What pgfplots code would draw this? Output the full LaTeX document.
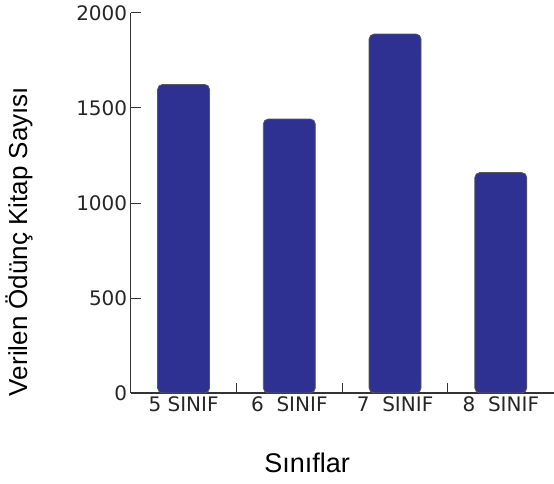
\documentclass[border=0pt]{standalone}
\usepackage{fontspec}
\setmainfont{Liberation Sans}
\newfontfamily\dejavu{DejaVu Sans}
\usepackage{pgfplots}
\pgfplotsset{compat=1.18}
\definecolor{barblue}{HTML}{2E3192}
\definecolor{axisgray}{HTML}{333333}
\begin{document}
\begin{tikzpicture}
% frame of the whole picture, in bp from the axis origin
\useasboundingbox (-130.7bp,-91bp) rectangle (423.3bp,393bp);
\begin{axis}[
  at={(0,0)}, anchor=south west,
  scale only axis,
  width=423bp, height=380bp,
  xmin=-0.5, xmax=3.5, ymin=0, ymax=2000,
  axis x line*=bottom, axis y line*=left,
  axis line style={axisgray, line width=1.1pt},
  tick align=inside,
  major tick length=10bp,
  tick style={axisgray, line width=1pt},
  ytick={0,500,...,2000},
  xtick={0.5,1.5,2.5},
  xticklabels={},
  extra x ticks={0,1,2,3},
  extra x tick labels={5 SINIF, 6\ \ SINIF, 7\ \ SINIF, 8\ \ SINIF},
  extra x tick style={major tick length=0pt},
  tick label style={font=\dejavu\fontsize{20bp}{24bp}\selectfont, text=black!85},
  /pgf/number format/assume math mode=true,
  /pgf/number format/1000 sep={},
  ylabel={Verilen Ödünç Kitap Sayısı},
  xlabel={Sınıflar},
  ylabel style={at={(axis description cs:-0.264,0.399)}, anchor=center,
    font=\fontsize{26bp}{30bp}\selectfont},
  xlabel style={at={(axis description cs:0.417,-0.2105)}, anchor=base,
    font=\fontsize{27bp}{31bp}\selectfont},
]
\addplot[ybar, bar width=52bp, bar shift=0pt, fill=barblue, draw=black!65,
  line width=0.8pt, rounded corners=5bp]
  coordinates {(0,1624) (1,1442) (2,1889) (3,1160)};
\end{axis}
\end{tikzpicture}
\end{document}
